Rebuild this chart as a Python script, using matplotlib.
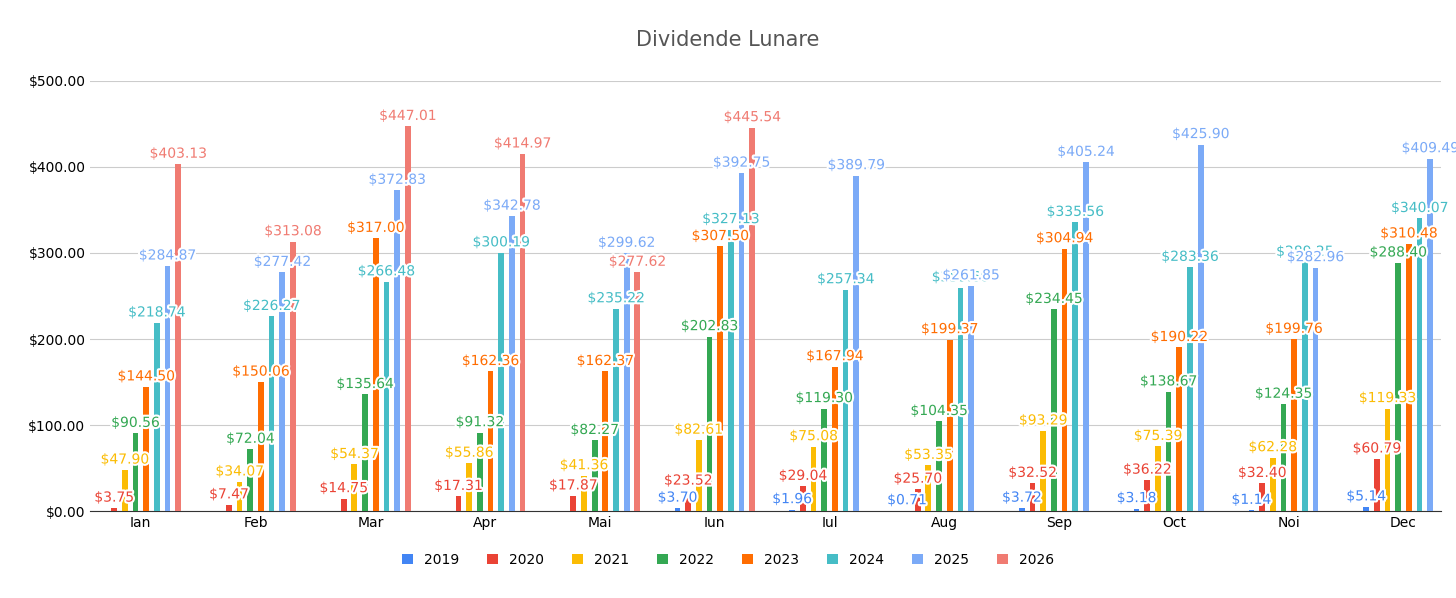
import matplotlib
matplotlib.use("Agg")
import matplotlib.pyplot as plt
import matplotlib.patheffects as pe
import numpy as np

months = ["Ian","Feb","Mar","Apr","Mai","Iun","Iul","Aug","Sep","Oct","Noi","Dec"]
years = ["2019","2020","2021","2022","2023","2024","2025","2026"]
colors = ["#4285F4","#EA4335","#FBBC04","#34A853","#FF6D01","#46BDC6","#7BAAF7","#F07B72"]
y2019 = [None,None,None,None,None,3.70,1.96,0.71,3.72,3.18,1.14,5.14]
y2020 = [3.75,7.47,14.75,17.31,17.87,23.52,29.04,25.70,32.52,36.22,32.40,60.79]
y2021 = [47.90,34.07,54.37,55.86,41.36,82.61,75.08,53.35,93.29,75.39,62.28,119.33]
y2022 = [90.56,72.04,135.64,91.32,82.27,202.83,119.30,104.35,234.45,138.67,124.35,288.40]
y2023 = [144.50,150.06,317.00,162.36,162.37,307.50,167.94,199.37,304.94,190.22,199.76,310.48]
y2024 = [218.74,226.27,266.48,300.19,235.22,327.13,257.34,259.60,335.56,283.36,289.25,340.07]
y2025 = [284.87,277.42,372.83,342.78,299.62,392.75,389.79,261.85,405.24,425.90,282.96,409.49]
y2026 = [403.13,313.08,447.01,414.97,277.62,445.54,None,None,None,None,None,None]
series = [y2019,y2020,y2021,y2022,y2023,y2024,y2025,y2026]

fig = plt.figure(figsize=(14.56,5.98), dpi=100)
ax = fig.add_axes([0.062,0.145,0.928,0.72])
x = np.arange(len(months))
slot = 0.093
bw = 0.05
for i,(yr,vals,c) in enumerate(zip(years,series,colors)):
    xs = x + (i-3.5)*slot
    v = [np.nan if a is None else a for a in vals]
    ax.bar(xs, v, width=bw, color=c, label=yr, zorder=3)
    for xx,a in zip(xs,vals):
        if a is None: continue
        ax.text(xx, a+4, f"${a:,.2f}", ha="center", va="bottom", fontsize=10, color=c, zorder=5,
                path_effects=[pe.withStroke(linewidth=3, foreground="white")])
ax.set_ylim(0,500)
ax.set_xlim(-0.44,11.33)
ax.set_yticks(range(0,501,100))
ax.set_yticklabels([f"${v:.2f}" for v in range(0,501,100)], fontsize=10)
ax.set_xticks(x)
ax.set_xticklabels(months, fontsize=10)
ax.grid(axis="y", color="#cccccc", linewidth=0.8, zorder=0)
for s in ["top","right","left"]:
    ax.spines[s].set_visible(False)
ax.spines["bottom"].set_color("#333333")
ax.tick_params(length=0)
fig.text(0.5,0.933,"Dividende Lunare", ha="center", va="center", fontsize=15, color="#555555")
fig.legend(loc="center", bbox_to_anchor=(0.5,0.064), ncol=8, frameon=False, fontsize=10,
           handlelength=0.8, handleheight=0.8, columnspacing=2.0)
fig.savefig("out.png", dpi=100, facecolor="white")
